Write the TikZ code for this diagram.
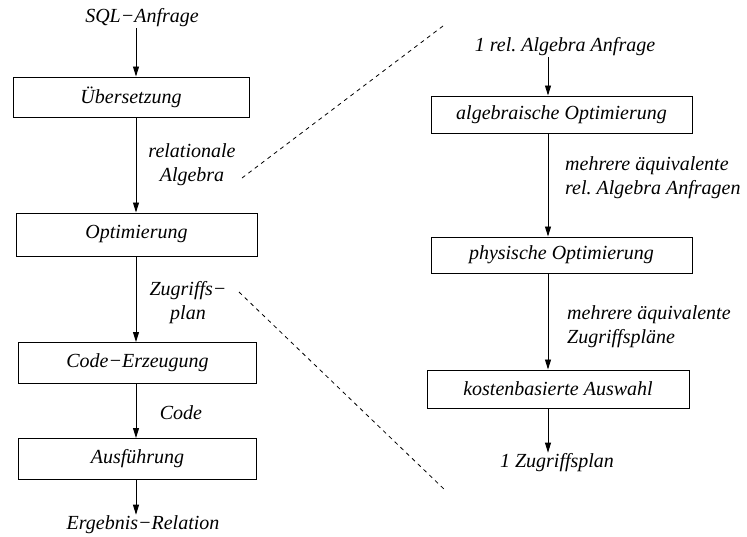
\documentclass[tikz,border=0pt]{standalone}
\usepackage{fontspec}
\setmainfont{Liberation Serif}
\usetikzlibrary{arrows.meta}
\frenchspacing
\tikzset{
  >={Triangle[length=10pt,width=6pt]},
  stage/.style={draw, line width=1pt, inner sep=0pt, font=\fontsize{20}{24}\selectfont\itshape},
  tx/.style   ={inner sep=1pt, font=\fontsize{20}{24}\selectfont\itshape, align=center},
  flow/.style ={->, line width=0.9pt},
  zoomline/.style={dash pattern=on 4pt off 4pt, line width=0.8pt}
}

\begin{document}
\begin{tikzpicture}[x=1pt,y=-1pt]
\useasboundingbox (0,0) rectangle (747,536);
\coordinate (lx) at (136,0);
\coordinate (rx) at (548,0);
% linke Spalte
\node[tx] (sql) at (142,18) {SQL−Anfrage};
\node[stage, minimum width=236pt, minimum height=40pt] (uebers) at (131,97) {Übersetzung};
\node[stage, minimum width=241pt, minimum height=43pt] (opt) at (136.5,234.5) {Optimierung};
\node[stage, minimum width=238pt, minimum height=41pt] (code) at (137.5,363) {Code−Erzeugung};
\node[stage, minimum width=238pt, minimum height=41pt] (ausf) at (137.5,459) {Ausführung};
\node[tx] (erg) at (143,525) {Ergebnis−Relation};
\node[tx] (relalg) at (192,165) {relationale\\Algebra};
\node[tx] (zugr) at (188,303) {Zugriffs−\\plan};
\node[tx] (codelbl) at (181,413) {Code};
\draw[flow] (sql.south -| lx) -- (uebers.north -| lx);
\draw[flow] (uebers.south -| lx) -- (opt.north -| lx);
\draw[flow] (opt.south -| lx) -- (code.north -| lx);
\draw[flow] (code.south -| lx) -- (ausf.north -| lx);
\draw[flow] (ausf.south -| lx) -- (erg.north -| lx);
% rechte Spalte
\node[tx] (ein) at (565,47) {1 rel. Algebra Anfrage};
\node[stage, minimum width=261pt, minimum height=37pt] (alg) at (561.5,114.5) {algebraische Optimierung};
\node[stage, minimum width=261pt, minimum height=36pt] (phys) at (561.5,255) {physische Optimierung};
\node[stage, minimum width=262pt, minimum height=38pt] (kost) at (558,389) {kostenbasierte Auswahl};
\node[tx] (aus) at (557,463) {1 Zugriffsplan};
\node[tx, align=left, anchor=west] (aequ1) at (564,178) {mehrere äquivalente\\rel. Algebra Anfragen};
\node[tx, align=left, anchor=west] (aequ2) at (566,327) {mehrere äquivalente\\Zugriffspläne};
\draw[flow] (ein.south -| rx) -- (alg.north -| rx);
\draw[flow] (alg.south -| rx) -- (phys.north -| rx);
\draw[flow] (phys.south -| rx) -- (kost.north -| rx);
\draw[flow] (kost.south -| rx) -- (aus.north -| rx);
% Verbindung der Detailansicht
\coordinate (o1) at (242,178);
\coordinate (o2) at (443,26);
\coordinate (u1) at (239,292);
\coordinate (u2) at (446,491);
\draw[zoomline] (o1) -- (o2);
\draw[zoomline] (u1) -- (u2);
\end{tikzpicture}
\end{document}
